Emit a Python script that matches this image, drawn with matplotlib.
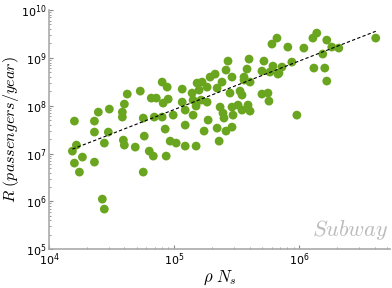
import matplotlib
matplotlib.use("Agg")
import matplotlib.pyplot as plt
import numpy as np

# log10 values (rho*N_s, ridership R)
log_rho_ns = [
    4.203, 4.363, 4.394, 4.482, 4.363, 4.474, 4.442, 4.219, 4.187, 4.267,
    4.203, 4.363, 4.243, 4.426, 4.442,
    4.625, 4.602, 4.586, 4.586, 4.729, 4.753, 4.817, 4.857, 4.904, 4.944,
    4.912, 4.952, 4.841, 4.904, 4.928, 4.594, 4.602, 4.689, 4.761, 4.801,
    4.833, 4.753, 4.936, 4.968,
    5.016, 5.064, 5.064, 4.992, 5.088, 5.151, 5.143, 5.183, 5.151, 5.088,
    5.088, 5.175, 5.199, 5.175,
    5.821, 5.781, 5.430, 5.598, 5.717, 5.789, 5.414, 5.462, 5.582, 5.558,
    5.701, 5.765, 5.829, 5.327, 5.287, 5.223, 5.382, 5.343, 5.263, 5.606,
    5.446, 5.526, 5.542, 5.701, 5.749, 5.757, 5.263, 5.367, 5.462, 5.510,
    5.590, 5.390, 5.470, 5.542, 5.606, 5.271, 5.398, 5.239, 5.343, 5.414,
    5.462, 5.359, 5.558, 5.215,
    5.908, 6.036, 6.108, 6.139, 6.219, 6.259, 6.315, 6.187, 6.610, 5.940,
    5.861, 5.837, 6.116, 6.203, 6.219, 5.980,
]
log_ridership = [
    7.678, 7.678, 7.866, 7.929, 7.448, 7.448, 7.218, 7.176, 7.050, 6.925,
    6.799, 6.820, 6.611, 6.046, 5.837,
    8.243, 8.034, 7.866, 7.762, 8.305, 7.741, 8.159, 8.159, 8.494, 8.389,
    8.054, 8.138, 7.762, 7.762, 7.511, 7.280, 7.176, 7.134, 7.364, 7.050,
    6.946, 6.611, 6.946, 7.259,
    7.218, 8.347, 8.075, 7.803, 7.594, 8.117, 8.264, 8.473, 7.803, 7.908,
    7.155, 7.155, 8.326, 7.992,
    9.414, 9.289, 8.933, 8.975, 8.933, 8.828, 8.745, 8.598, 8.766, 8.598,
    8.724, 8.703, 8.661, 8.661, 8.598, 8.494, 8.494, 8.368, 8.389, 8.494,
    8.264, 8.305, 8.222, 8.243, 8.264, 8.096, 8.075, 7.971, 7.971, 8.013,
    8.013, 7.845, 7.803, 7.908, 7.887, 7.699, 7.741, 7.469, 7.531, 7.469,
    7.552, 7.259, 8.536, 8.117,
    9.226, 9.205, 9.414, 9.519, 9.372, 9.226, 9.205, 9.080, 9.414, 8.912,
    8.808, 8.682, 8.787, 8.787, 8.515, 7.803,
]

# power-law fit shown as dashed line: log R = a + b log(rho N_s)
fit_intercept = 2.834
fit_slope = 1.017

x = 10 ** np.array(log_rho_ns)
y = 10 ** np.array(log_ridership)

plt.rcParams["mathtext.fontset"] = "cm"

fig = plt.figure(figsize=(3.92, 2.88), dpi=100)
ax = fig.add_axes([0.125, 0.135, 0.87, 0.83])

ax.scatter(x, y, s=40, color="#6aa51f", edgecolors="none", zorder=2)

xf = np.array([x.min(), x.max()])
ax.plot(xf, 10 ** fit_intercept * xf ** fit_slope, "k--", linewidth=0.8,
        dashes=(3, 2), zorder=3)

ax.set_xscale("log")
ax.set_yscale("log")
ax.set_xlim(1e4, 5.3e6)
ax.set_ylim(1e5, 1e10)

for side in ["top", "right"]:
    ax.spines[side].set_visible(False)
for side in ["left", "bottom"]:
    ax.spines[side].set_color("#aaaaaa")
    ax.spines[side].set_linewidth(1.2)

ax.tick_params(which="both", direction="in", colors="#888888", labelcolor="black",
               labelsize=8, pad=2)
ax.tick_params(which="major", length=3)
ax.tick_params(which="minor", length=1.5)

ax.set_xlabel(r"$\rho\ N_s$", fontsize=12, labelpad=0)
ax.set_ylabel(r"$R\ (passengers/year)$", fontsize=11.5, labelpad=0)

ax.text(0.995, 0.03, r"$Subway$", transform=ax.transAxes, ha="right", va="bottom",
        fontsize=16, color="#bbbbbb")

fig.savefig("out.png", dpi=100)
